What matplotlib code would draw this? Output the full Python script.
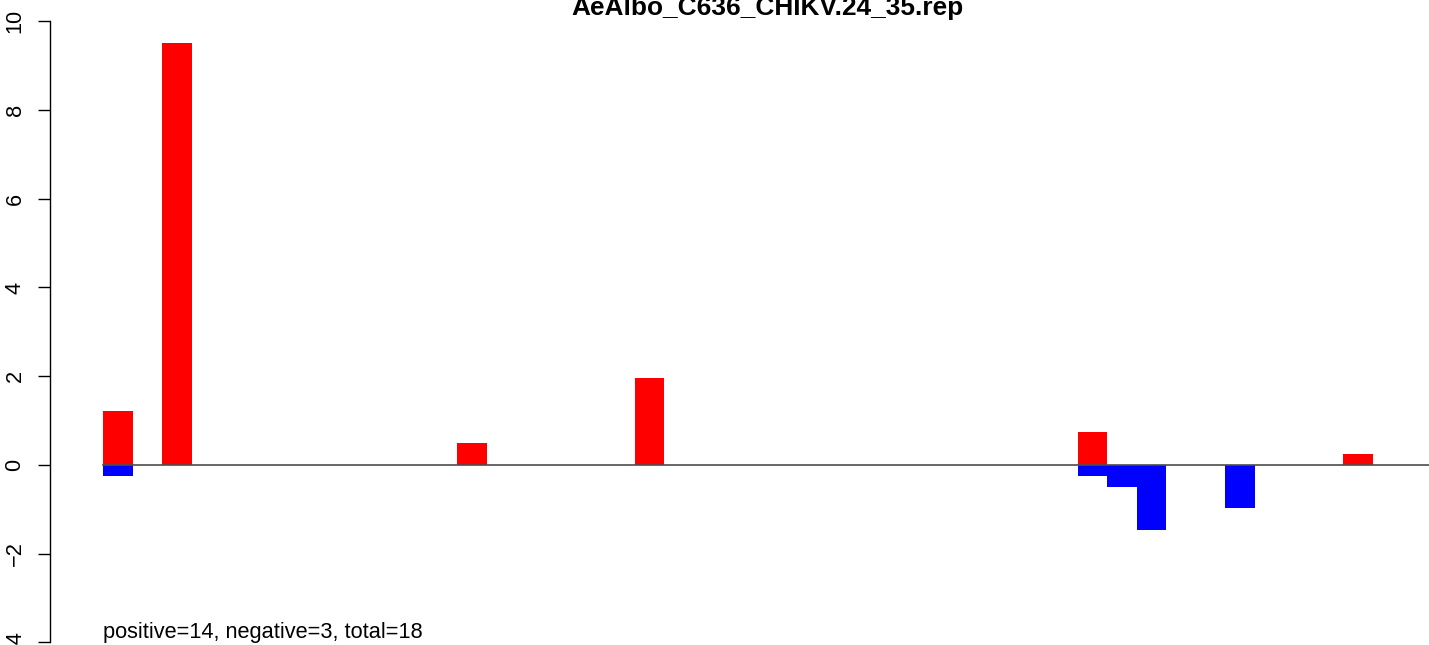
import numpy as np
import matplotlib
matplotlib.use("Agg")
import matplotlib.pyplot as plt

title = "AeAlbo_C636_CHIKV.24_35.rep"
summary = "positive=14, negative=3, total=18"

# one value per bin (45 bins), positive strand up, negative strand down
pos_vals = [1.22, 0, 9.52, 0, 0, 0, 0, 0, 0, 0, 0, 0, 0.49, 0, 0,
            0, 0, 0, 1.95, 0, 0, 0, 0, 0, 0, 0, 0, 0, 0, 0,
            0, 0, 0, 0.73, 0, 0, 0, 0, 0, 0, 0, 0, 0.24, 0, 0]
neg_vals = [-0.24, 0, 0, 0, 0, 0, 0, 0, 0, 0, 0, 0, 0, 0, 0,
            0, 0, 0, 0, 0, 0, 0, 0, 0, 0, 0, 0, 0, 0, 0,
            0, 0, 0, -0.24, -0.49, -1.47, 0, 0, -0.98, 0, 0, 0, 0, 0, 0]
yticks = [-4, -2, 0, 2, 4, 6, 8, 10]

plt.rcParams['font.family'] = ['Liberation Sans', 'DejaVu Sans']

W, H = 1429, 645
fig = plt.figure(figsize=(W / 100, H / 100), dpi=100)
# plot region runs a bit past the image edges (cropped R device)
left, right = 50, 1485
top, bottom = -3.5, 667.1
ax = fig.add_axes([left / W, (H - bottom) / H, (right - left) / W, (bottom - top) / H])

n = len(pos_vals)
x = np.arange(n)
ax.bar(x, pos_vals, width=1, align='edge', color='#FF0000', linewidth=0)
ax.bar(x, neg_vals, width=1, align='edge', color='#0000FF', linewidth=0)
ax.plot([0, n], [0, 0], color='#4d4d4d', lw=1.2)

pad = 0.04 * n
ax.set_xlim(-pad, n + pad)
ax.set_ylim(-4 - 0.04 * 14, 10 + 0.04 * 14)

for s in ['top', 'right', 'bottom']:
    ax.spines[s].set_visible(False)
ax.spines['left'].set_bounds(-4, 10)
ax.spines['left'].set_linewidth(1.0)
ax.set_xticks([])
ax.set_yticks(yticks)
ax.set_yticklabels([str(t).replace('-', '\u2212') for t in yticks], rotation=90,
                   va='center', fontsize=15.7)
ax.tick_params(axis='y', length=8.6, width=1.0, pad=9)

ax.text(0, -3.78, summary, fontsize=15.7, ha='left', va='center')
fig.text(767 / W, 1 - 14.7 / H, title, ha='center', va='baseline',
         fontsize=18.9, fontweight='bold')

fig.savefig('out.png', dpi=100)
